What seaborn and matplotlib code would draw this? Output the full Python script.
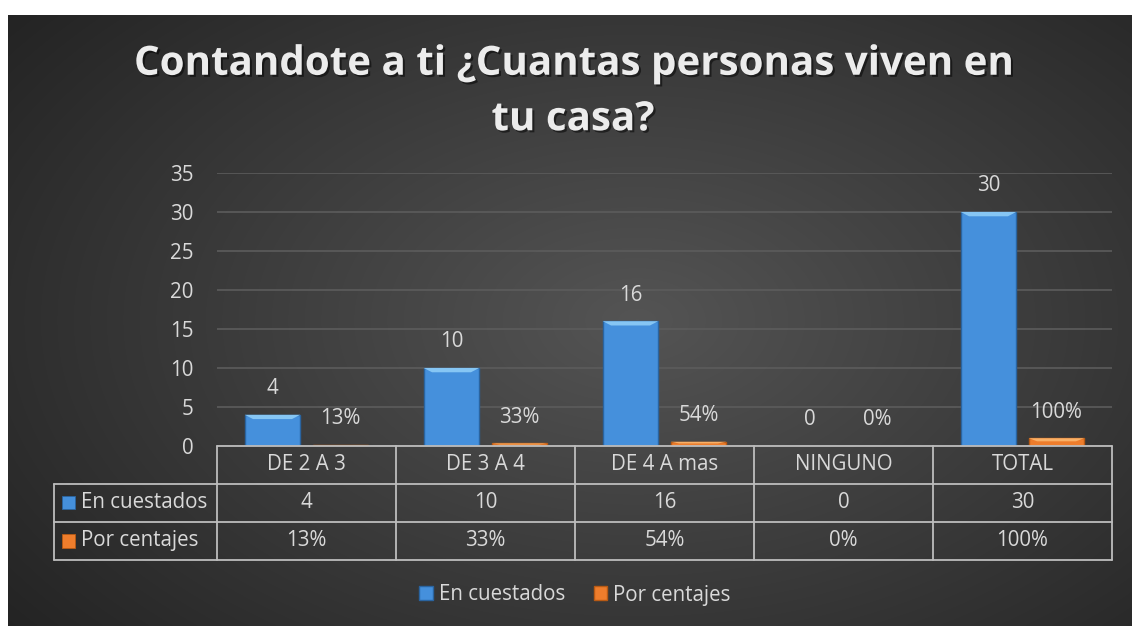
import numpy as np
import pandas as pd
import matplotlib
matplotlib.use('Agg')
import matplotlib.pyplot as plt
import matplotlib.patheffects as pe
from matplotlib.patches import Patch, Polygon, Rectangle
import seaborn as sns

# datos de la encuesta
categorias = ['DE 2 A 3', 'DE 3 A 4', 'DE 4 A mas', 'NINGUNO', 'TOTAL']
encuestados = [4, 10, 16, 0, 30]
porcentajes = [0.13, 0.33, 0.54, 0.0, 1.0]
etiquetas_pct = ['13%', '33%', '54%', '0%', '100%']
series = ['En cuestados', 'Por centajes']
titulo = 'Contandote a ti ¿Cuantas personas viven en\ntu casa?'

df = pd.DataFrame({
    'categoria': categorias * 2,
    'valor': encuestados + porcentajes,
    'serie': [series[0]] * 5 + [series[1]] * 5,
})

sns.set_theme(style='white')
plt.rcParams['font.family'] = ['Open Sans', 'DejaVu Sans']
txt = '#d9d9d9'
linea = '#bdbdbd'
azul = '#4590dc'
naranja = '#ee7d2c'
fs = 14.8

W, H = 1132, 626
fig = plt.figure(figsize=(W / 100, H / 100), dpi=100)
fig.patch.set_facecolor('white')

# fondo con degradado radial
bg = fig.add_axes([8 / W, 0, 1 - 8 / W, 611 / H])
yy, xx = np.mgrid[0:1:300j, 0:1:500j]
r = np.sqrt(((xx - 0.56) / 0.75) ** 2 + ((yy - 0.5) / 0.85) ** 2)
g = np.clip(0.33 - 0.2 * r, 0.14, 0.33)
bg.imshow(np.dstack([g, g, g]), aspect='auto', extent=[0, 1, 0, 1], interpolation='bilinear')
bg.axis('off')

ax = fig.add_axes([217 / W, 1 - 446 / H, (1112 - 217) / W, (446 - 173) / H])
ax.patch.set_alpha(0)
sns.barplot(data=df, x='categoria', y='valor', hue='serie', order=categorias,
            hue_order=series, palette=[azul, naranja], width=0.76, gap=0.184,
            saturation=1, legend=False, ax=ax, edgecolor='none')

ax.set_ylim(0, 35)
ax.set_xlim(-0.5, 4.5)
ax.set_yticks(range(0, 36, 5))
ax.yaxis.grid(True, color='#5c5c5c', lw=1.2)
ax.set_axisbelow(True)
for s in ax.spines.values():
    s.set_visible(False)
ax.tick_params(axis='y', length=0, pad=17, labelsize=fs, labelcolor=txt)
ax.set_xticks([])
ax.set_xlabel('')
ax.set_ylabel('')

# bisel de las barras y etiquetas
claros = {azul: '#86c6f4', naranja: '#f9b067'}
oscuros = {azul: '#2a64a0', naranja: '#b85a14'}
barras = ax.patches[:10]
for i, b in enumerate(barras):
    x0, y0 = b.get_x(), b.get_y()
    w, h = b.get_width(), b.get_height()
    base = azul if i < 5 else naranja
    if h > 0:
        b.set_edgecolor(oscuros[base])
        b.set_linewidth(1.0)
        bh = min(0.55, h * 0.4)
        bw = w * 0.15
        ax.add_patch(Polygon([[x0, y0 + h], [x0 + w, y0 + h], [x0 + w - bw, y0 + h - bh],
                              [x0 + bw, y0 + h - bh]], closed=True, fc=claros[base], ec='none'))
    lab = str(encuestados[i]) if i < 5 else etiquetas_pct[i - 5]
    ax.text(x0 + w / 2, y0 + h + 2.0, lab, ha='center', va='bottom', fontsize=fs, color=txt)

# tabla de datos
trans = ax.get_xaxis_transform()
x_izq = -1.41
filas = [0, -0.139, -0.278, -0.4176]
kw = dict(color=linea, lw=1.3, transform=trans, clip_on=False)
ax.plot([-0.5, 4.5], [filas[0], filas[0]], **kw)
for yv in filas[1:]:
    ax.plot([x_izq, 4.5], [yv, yv], **kw)
for xv in np.arange(-0.5, 4.6, 1):
    ax.plot([xv, xv], [filas[0], filas[3]], **kw)
ax.plot([x_izq, x_izq], [filas[1], filas[3]], **kw)

ymed = [(filas[k] + filas[k + 1]) / 2 for k in range(3)]
for j, c in enumerate(categorias):
    ax.text(j, ymed[0], c, ha='center', va='center', fontsize=fs, color=txt, transform=trans)
    ax.text(j, ymed[1], str(encuestados[j]), ha='center', va='center', fontsize=fs, color=txt, transform=trans)
    ax.text(j, ymed[2], etiquetas_pct[j], ha='center', va='center', fontsize=fs, color=txt, transform=trans)
for k, (s, col) in enumerate(zip(series, [azul, naranja])):
    ax.add_patch(Rectangle((x_izq + 0.045, ymed[k + 1] - 0.024), 0.073, 0.048, transform=trans,
                           fc=col, ec=oscuros[col], lw=0.6, clip_on=False))
    ax.text(x_izq + 0.15, ymed[k + 1], s, ha='left', va='center', fontsize=fs, color=txt, transform=trans)

# titulo
fig.text(0.506, 1 - 92 / H, titulo, ha='center', va='center', fontsize=29, fontweight='bold',
         color='#ececec', linespacing=1.55,
         path_effects=[pe.withSimplePatchShadow(offset=(1.5, -1.5), shadow_rgbFace='black', alpha=0.5)])

# leyenda
handles = [Patch(fc=azul, ec=oscuros[azul]), Patch(fc=naranja, ec=oscuros[naranja])]
fig.legend(handles, series, loc='center', bbox_to_anchor=(0.508, 1 - 595 / H), ncol=2,
           frameon=False, fontsize=fs, labelcolor=txt, handlelength=0.65, handleheight=0.65,
           handletextpad=0.3, columnspacing=1.4)

fig.savefig('out.png', dpi=100)
